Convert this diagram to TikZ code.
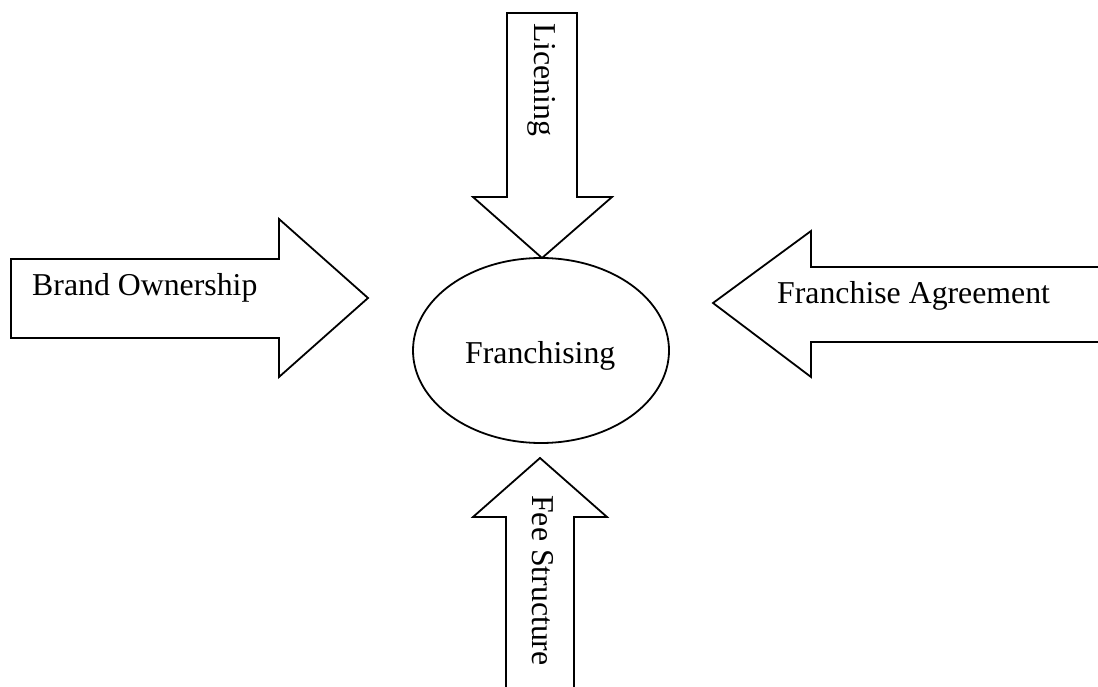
\documentclass[tikz,border=0pt]{standalone}
\usepackage{fontspec}
\setmainfont{Liberation Serif}
\usetikzlibrary{shapes.geometric}
\begin{document}
\begin{tikzpicture}[x=1pt,y=-1pt,
  blockarrow/.style={draw=black, line width=1.8pt, line join=miter, fill=white},
  lbl/.style={font=\fontsize{31.8}{38}\selectfont, inner sep=0pt, anchor=base west},
  hub/.style={draw=black, line width=1.8pt, ellipse, inner sep=0pt, minimum width=256pt, minimum height=185pt}]
\useasboundingbox (0,0) rectangle (1098,687);
\clip (0,0) rectangle (1098,687);
% top arrow (Licening)
\draw[blockarrow] (507,13) -- (577,13) -- (577,197) -- (612,197) -- (542,258) -- (473,197) -- (507,197) -- cycle;
% left arrow (Brand Ownership)
\draw[blockarrow] (11,259) -- (279,259) -- (279,219) -- (368,298) -- (279,377) -- (279,338) -- (11,338) -- cycle;
% right arrow (Franchise Agreement)
\draw[blockarrow] (1110,267) -- (811,267) -- (811,231) -- (713,303) -- (811,377) -- (811,342) -- (1110,342);
% bottom arrow (Fee Structure)
\draw[blockarrow] (506,700) -- (506,517) -- (473,517) -- (540,458) -- (607,517) -- (574,517) -- (574,700);
% central ellipse
\node[hub] (core) at (541,350.5) {};
\node[lbl] (corelbl) at (465,363) {Franchising};
\node[lbl] (brand) at (32,295) {Brand Ownership};
\node[lbl] (agree) at (777,303) {Franchise Agreement};
\node[lbl, rotate=-90] (licen) at (534,23) {Licening};
\node[lbl, rotate=-90] (fee) at (532,495) {Fee Structure};
\end{tikzpicture}
\end{document}
